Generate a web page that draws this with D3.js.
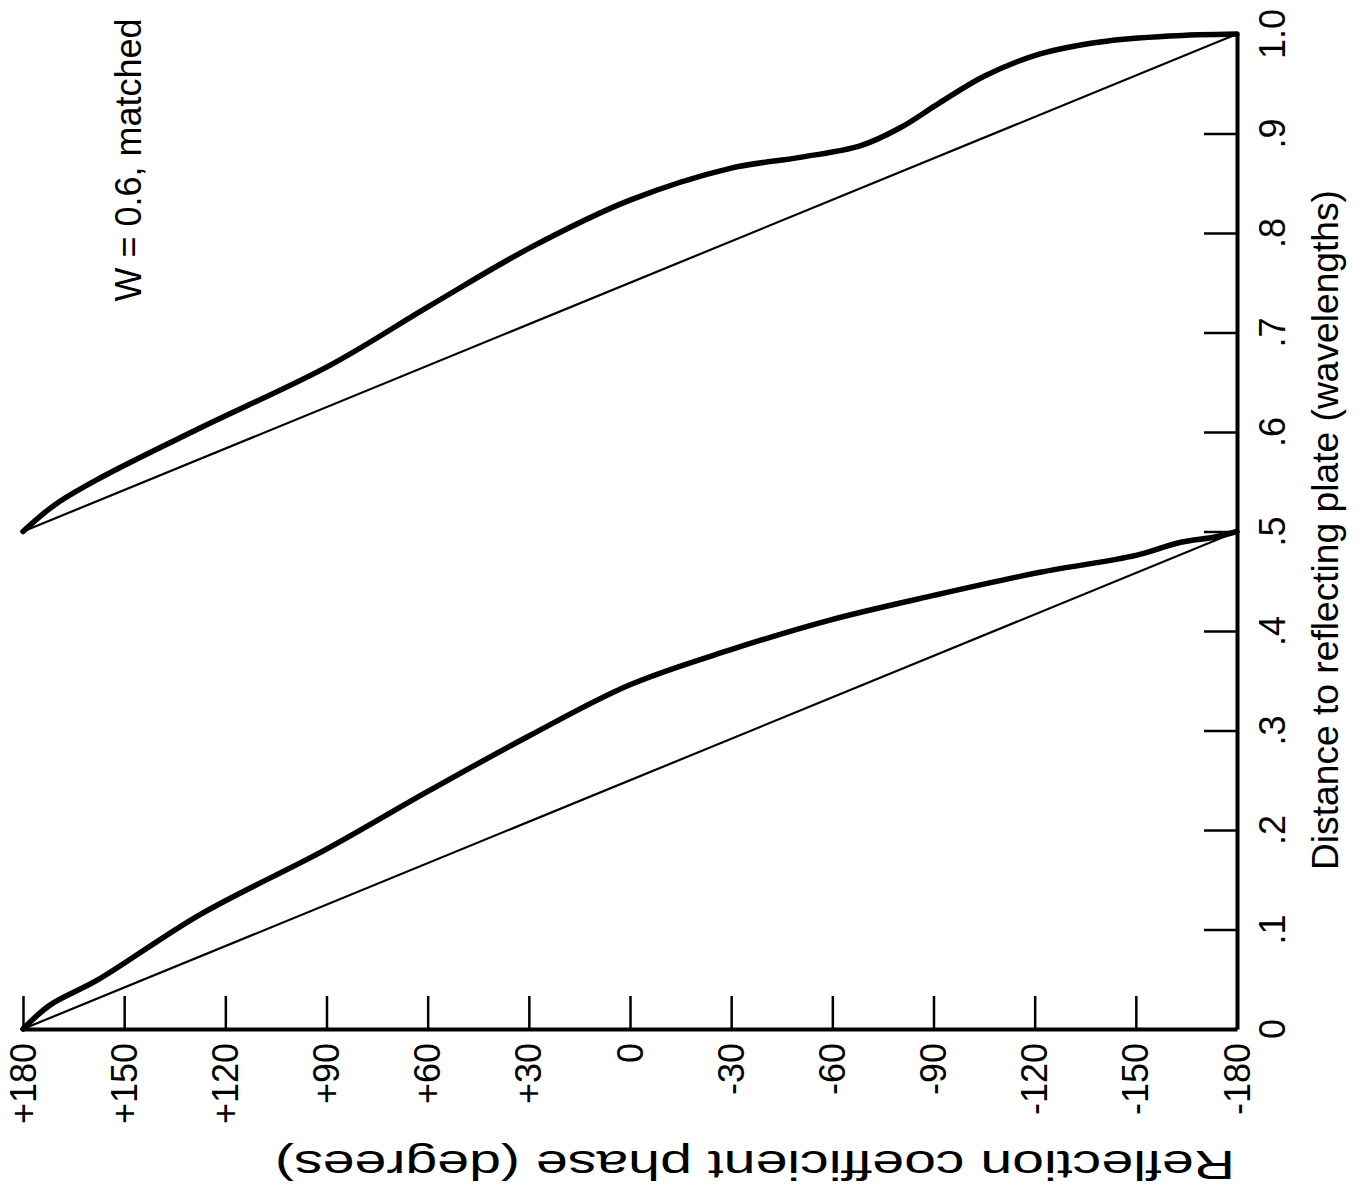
<!DOCTYPE html>
<html>
<head>
<meta charset="utf-8">
<script src="https://cdn.jsdelivr.net/npm/d3@7"></script>
<style>
  body { margin: 0; background: #fff; }
  text { font-family: "Liberation Sans", Arial, sans-serif; fill: #000; }
</style>
</head>
<body>
<svg width="1363" height="1199"></svg>
<script>
// phase axis (runs left to right along the bottom, +180 on the left)
const phaseTicks = [180, 150, 120, 90, 60, 30, 0, -30, -60, -90, -120, -150, -180];
const phaseLabels = ["+180", "+150", "+120", "+90", "+60", "+30", "0", "-30", "-60", "-90", "-120", "-150", "-180"];

// distance axis (runs bottom to top on the right)
const distTicks = [0, 0.1, 0.2, 0.3, 0.4, 0.5, 0.6, 0.7, 0.8, 0.9, 1.0];
const distLabels = ["0", ".1", ".2", ".3", ".4", ".5", ".6", ".7", ".8", ".9", "1.0"];

// measured curve, [distance, phase]
const lowerCurve = [
    [0, 180], [0.024, 172], [0.049, 158], [0.115, 127.5], [0.18, 90.4], [0.24, 59.3],
    [0.295, 29.7], [0.346, 0], [0.381, -29.7], [0.411, -59.3], [0.436, -90.4],
    [0.459, -121.6], [0.476, -150], [0.489, -163], [0.4945, -173.5], [0.5, -180]
];
const upperCurve = [
    [0.5, 180], [0.527, 170.5], [0.554, 157], [0.604, 127.5], [0.667, 89], [0.727, 59.3],
    [0.785, 29.7], [0.833, 0], [0.865, -29.7], [0.876, -50.4], [0.8875, -68.2],
    [0.9055, -80], [0.931, -91.9], [0.958, -105.3], [0.98, -121.6], [0.992, -139.4],
    [0.998, -160], [1.0, -180]
];

// ideal (perfect reflector) phase lines
const idealLower = [[0, 180], [0.5, -180]];
const idealUpper = [[0.5, 180], [1.0, -180]];

const texts = {
    distTitle: "Distance to reflecting plate (wavelengths)",
    phaseTitle: "Reflection coefficient phase (degrees)",
    note: "W = 0.6, matched"
};

const svg = d3.select("svg");

const x = d3.scaleLinear().domain([180, -180]).range([23, 1237]);
const y = d3.scaleLinear().domain([0, 1]).range([1029, 34]);

const line = d3.line()
    .x(d => x(d[1]))
    .y(d => y(d[0]));

const curveLine = d3.line()
    .x(d => x(d[1]))
    .y(d => y(d[0]))
    .curve(d3.curveCatmullRom.alpha(0.5));

// thin straight lines
svg.selectAll(".ideal")
    .data([idealLower, idealUpper])
    .join("path")
    .attr("class", "ideal")
    .attr("d", line)
    .attr("fill", "none")
    .attr("stroke", "#000")
    .attr("stroke-width", 2.2);

// thick curves
svg.selectAll(".measured")
    .data([lowerCurve, upperCurve])
    .join("path")
    .attr("class", "measured")
    .attr("d", curveLine)
    .attr("fill", "none")
    .attr("stroke", "#000")
    .attr("stroke-width", 5.5)
    .attr("stroke-linejoin", "round")
    .attr("stroke-linecap", "round");

// bottom axis, ticks pointing up
const xAxis = svg.append("g")
    .attr("transform", `translate(0,${y(0)})`)
    .call(d3.axisTop(x).tickValues(phaseTicks).tickSize(33).tickSizeOuter(0).tickFormat(""));

// right axis, ticks pointing left
const yAxis = svg.append("g")
    .attr("transform", `translate(${x(-180)},0)`)
    .call(d3.axisLeft(y).tickValues(distTicks).tickSize(33).tickSizeOuter(0).tickFormat(""));

xAxis.select(".domain").attr("stroke-width", 4);
yAxis.select(".domain").attr("stroke-width", 4);
svg.selectAll(".tick line").attr("stroke-width", 2.5);

// phase tick labels, rotated
svg.append("g")
    .selectAll("text")
    .data(phaseTicks)
    .join("text")
    .attr("transform", d => `translate(${x(d)},${y(0) + 14}) rotate(-90)`)
    .attr("text-anchor", "end")
    .attr("dominant-baseline", "central")
    .attr("font-size", 36)
    .text((d, i) => phaseLabels[i]);

// distance tick labels
svg.append("g")
    .selectAll("text")
    .data(distTicks)
    .join("text")
    .attr("transform", d => `translate(1272,${y(d)}) rotate(-90)`)
    .attr("text-anchor", "middle")
    .attr("dominant-baseline", "central")
    .attr("font-size", 36)
    .text((d, i) => distLabels[i]);

// axis titles
svg.append("text")
    .attr("transform", "translate(1325,530) rotate(-90)")
    .attr("text-anchor", "middle")
    .attr("dominant-baseline", "central")
    .attr("font-size", 36)
    .attr("textLength", 680)
    .attr("lengthAdjust", "spacingAndGlyphs")
    .text(texts.distTitle);

svg.append("text")
    .attr("transform", "translate(755,1165) rotate(180)")
    .attr("text-anchor", "middle")
    .attr("dominant-baseline", "central")
    .attr("font-size", 40)
    .attr("textLength", 960)
    .attr("lengthAdjust", "spacingAndGlyphs")
    .text(texts.phaseTitle);

svg.append("text")
    .attr("transform", "translate(128,160) rotate(-90)")
    .attr("text-anchor", "middle")
    .attr("dominant-baseline", "central")
    .attr("font-size", 36)
    .text(texts.note);
</script>
</body>
</html>
